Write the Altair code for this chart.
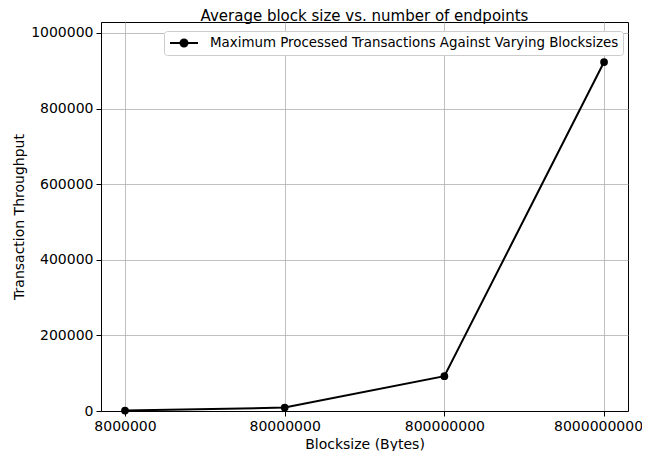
import altair as alt
import pandas as pd

blocksizes = [8000000, 80000000, 800000000, 8000000000]
throughput = [1000, 9000, 92000, 923000]
series_name = "Maximum Processed Transactions Against Varying Blocksizes"
x_ticks = [8000000, 80000000, 800000000, 8000000000]
y_ticks = [0, 200000, 400000, 600000, 800000, 1000000]

df = pd.DataFrame({"blocksize": blocksizes, "throughput": throughput,
                   "series": [series_name] * len(blocksizes)})

FONT = "DejaVu Sans"
sym = "M-2,0H2M0.5,0A0.5,0.5,0,1,1,-0.5,0A0.5,0.5,0,1,1,0.5,0Z"

chart = alt.Chart(df).mark_line(
    strokeWidth=2,
    point=alt.OverlayMarkDef(filled=True, size=60, opacity=1),
).encode(
    x=alt.X("blocksize:Q", title="Blocksize (Bytes)",
            scale=alt.Scale(type="log", domain=[5.66e6, 1.13e10], nice=False),
            axis=alt.Axis(values=x_ticks, format="d", labelFlush=False,
                          labelOffset={"condition": {"test": "datum.value > 5000000000",
                                                     "value": -6},
                                       "value": 0})),
    y=alt.Y("throughput:Q", title="Transaction Throughput",
            scale=alt.Scale(domain=[0, 1029000], nice=False, zero=False),
            axis=alt.Axis(values=y_ticks, format="d")),
    color=alt.Color("series:N", scale=alt.Scale(range=["black"]),
                    legend=alt.Legend(title=None, orient="none", legendX=63, legendY=9,
                                      symbolType=sym, symbolSize=196,
                                      symbolStrokeWidth=2,
                                      symbolFillColor="black",
                                      symbolStrokeColor="black",
                                      symbolOffset=8, labelOffset=18,
                                      labelLimit=0, labelFontSize=13.4,
                                      labelFont=FONT, labelColor="black",
                                      padding=4, strokeColor="#cccccc",
                                      fillColor="white", cornerRadius=3)),
).properties(
    width=527, height=389,
    title=alt.Title("Average block size vs. number of endpoints",
                    fontSize=15, font=FONT, fontWeight="normal",
                    color="black", offset=-2),
    autosize=alt.AutoSizeParams(type="none"),
    padding={"left": 93, "top": 14, "right": 14, "bottom": 40},
).configure_view(
    stroke="black", strokeWidth=1,
).configure_axis(
    labelFont=FONT, labelFontSize=14, labelColor="black",
    titleFont=FONT, titleFontSize=14, titleColor="black", titleFontWeight="normal",
    gridColor="#b0b0b0", gridWidth=0.8, gridOpacity=1,
    domainColor="black", domainWidth=1,
    tickColor="black", tickSize=5, tickWidth=1,
    labelPadding=3,
)

chart.save("out.html", embed_options={"renderer": "svg", "actions": False})
